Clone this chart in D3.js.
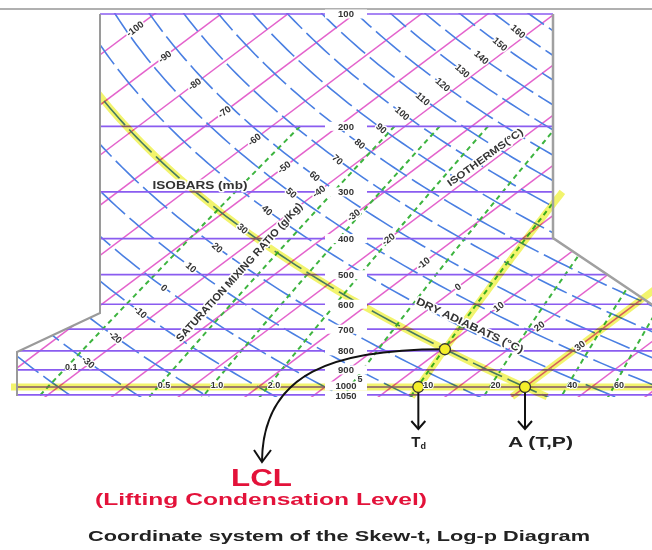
<!DOCTYPE html>
<html>
<head>
<meta charset="utf-8">
<script src="https://cdn.jsdelivr.net/npm/d3@7"></script>
<style>
  body { margin: 0; background: #fff; }
  text { font-family: "Liberation Sans", Arial, sans-serif; font-weight: bold; }
</style>
</head>
<body>
<svg id="chart" width="652" height="550"></svg>
<script>
// isobars (mb) and their labels
var pressures = [100, 200, 300, 400, 500, 600, 700, 800, 900, 1000, 1050];
// isotherms (deg C)
var isotherms = [-110, -100, -90, -80, -70, -60, -50, -40, -30, -20, -10, 0, 10, 20, 30, 40, 50, 60];
var isothermLabels = [-100, -90, -80, -70, -60, -50, -40, -30, -20, -10, 0, 10, 20, 30, 40];
// dry adiabats, potential temperature (deg C)
var adiabats = [-50, -40, -30, -20, -10, 0, 10, 20, 30, 40, 50, 60, 70, 80, 90, 100,
                110, 120, 130, 140, 150, 160, 170, 180];
var adiabatLabels = [-40, -30, -20, -10, 0, 10, 20, 30, 40, 50, 60, 70, 80, 90, 100,
                     110, 120, 130, 140, 150, 160];
// saturation mixing ratio lines (g/kg)
var mixingRatios = [0.1, 0.5, 1, 2, 5, 10, 20, 40, 60];
// the surface parcel
var parcelPressure = 1000;
var parcelTemp = 30;
var parcelDewpoint = 14;

var W = 652, H = 550;
var SKEW = 1.33;

var svg = d3.select("#chart");

var y = d3.scaleLog().domain([100, 1000]).range([14, 387]);
var t = d3.scaleLinear().domain([0, 30]).range([325, 525]);
var Y0 = y(1000);

function px(T, p) {
    return t(T) + SKEW * (Y0 - y(p));
}
function satVap(T) {
    return 6.112 * Math.exp(17.67 * T / (T + 243.5));
}
function mixT(w, p) {
    var e = w * p / (622 + w);
    var l = Math.log(e / 6.112);
    return 243.5 * l / (17.67 - l);
}
function dryT(theta, p) {
    return (theta + 273.15) * Math.pow(p / 1000, 0.286) - 273.15;
}
function levels(p0, p1) {
    var n = 80, out = [];
    for (var i = 0; i <= n; i++) {
        out.push(p0 * Math.pow(p1 / p0, i / n));
    }
    return out;
}

var line = d3.line();

var defs = svg.append("defs");
defs.append("clipPath").attr("id", "frame")
    .append("polygon")
    .attr("points", [[100, 13], [553, 13], [553, 238], [760, 378], [760, 397], [17, 397], [17, 352], [100, 313]].join(" "));
defs.append("clipPath").attr("id", "leftcut")
    .append("rect").attr("x", 100).attr("y", 0).attr("width", W).attr("height", H);

// gray border of the screenshot
svg.append("line").attr("x1", 0).attr("x2", W).attr("y1", 9).attr("y2", 9)
    .attr("stroke", "#b0b0b0").attr("stroke-width", 2);

var grid = svg.append("g").attr("clip-path", "url(#frame)").attr("fill", "none");

grid.selectAll(".iso").data(isotherms).enter().append("path")
    .attr("d", function (T) { return line([[px(T, 95), y(95)], [px(T, 1070), y(1070)]]); })
    .attr("stroke", "#e463cc").attr("stroke-width", 1.5);

grid.selectAll(".dry").data(adiabats).enter().append("path")
    .attr("d", function (th) {
        return line(levels(95, 1070).map(function (p) { return [px(dryT(th, p), p), y(p)]; }));
    })
    .attr("stroke", "#4a7fe2").attr("stroke-width", 1.6)
    .attr("stroke-dasharray", "32,6");

grid.selectAll(".mix").data(mixingRatios).enter().append("path")
    .attr("d", function (w) {
        return line(levels(200, 1070).map(function (p) { return [px(mixT(w, p), p), y(p)]; }));
    })
    .attr("stroke", "#3db43f").attr("stroke-width", 2)
    .attr("stroke-dasharray", "5,4");

grid.selectAll(".bar").data(pressures).enter().append("line")
    .attr("x1", 0).attr("x2", W)
    .attr("y1", function (p) { return y(p); }).attr("y2", function (p) { return y(p); })
    .attr("stroke", "#8a5cf0").attr("stroke-width", 1.7);

// yellow highlighter strokes
var hi = svg.append("g").attr("fill", "none").attr("stroke", "#eef03c")
    .attr("stroke-width", 7).attr("stroke-opacity", 0.75)
    .style("mix-blend-mode", "multiply");
var wLine = 622 * satVap(parcelDewpoint) / (parcelPressure - satVap(parcelDewpoint));

hi.append("line").attr("x1", 11).attr("x2", W)
    .attr("y1", y(parcelPressure)).attr("y2", y(parcelPressure));
hi.append("path").attr("clip-path", "url(#leftcut)")
    .attr("d", line(levels(150, 1062).map(function (p) { return [px(dryT(parcelTemp, p), p), y(p)]; })));
hi.append("path")
    .attr("d", line(levels(300, 1062).map(function (p) { return [px(mixT(wLine, p), p), y(p)]; })));
hi.append("path")
    .attr("d", line([[px(parcelTemp, 1062), y(1062)], [px(parcelTemp, 520), y(520)]]));

// diagram outline
svg.append("polyline").attr("fill", "none").attr("stroke", "#9a9a9a").attr("stroke-width", 2)
    .attr("points", [[100, 14], [100, 313], [17, 352], [17, 396]].join(" "));
svg.append("polyline").attr("fill", "none").attr("stroke", "#a0a0a0").attr("stroke-width", 2.5)
    .attr("points", [[553, 14], [553, 238], [660, 310]].join(" "));

// pressure labels
var pl = svg.selectAll(".plab").data(pressures).enter().append("g")
    .attr("transform", function (p) {
        var nudge = p === 1000 ? -1 : (p === 1050 ? 1 : 0);
        return "translate(346," + (y(p) + nudge) + ")";
    });
pl.append("rect").attr("x", -21).attr("y", -4.5).attr("width", 42).attr("height", 9).attr("fill", "#fff");
pl.append("text").attr("text-anchor", "middle").attr("dy", "0.36em")
    .attr("font-size", 9.5).attr("fill", "#333").text(function (p) { return p; });

// find where a curve x = fx(yy) crosses a guide polyline
function onGuide(guide, fx) {
    var pts = [], n = 600;
    for (var i = 0; i < guide.length - 1; i++) {
        for (var j = 0; j < n; j++) {
            var s = j / n;
            pts.push([guide[i][0] + s * (guide[i + 1][0] - guide[i][0]),
                      guide[i][1] + s * (guide[i + 1][1] - guide[i][1])]);
        }
    }
    pts.push(guide[guide.length - 1]);
    for (var k = 0; k < pts.length - 1; k++) {
        var a = pts[k][0] - fx(pts[k][1]), b = pts[k + 1][0] - fx(pts[k + 1][1]);
        if (a === 0 || a * b < 0) return pts[k];
    }
    return null;
}

var halo = function (sel) {
    sel.attr("stroke", "#fff").attr("stroke-width", 3).attr("paint-order", "stroke")
        .attr("stroke-linejoin", "round");
};

var isoGuide = [[133, 27], [285, 168], [458, 287], [620, 365]];
isothermLabels.forEach(function (T) {
    var pt = onGuide(isoGuide, function (yy) { return px(T, y.invert(yy)); });
    if (!pt) return;
    svg.append("text").attr("transform", "translate(" + pt + ") rotate(-37)")
        .attr("text-anchor", "middle").attr("dy", "0.36em")
        .attr("font-size", 9.5).attr("fill", "#333").call(halo).text(T);
});

var dryGuide = [[520, 30], [400, 115], [270, 208], [165, 287], [93, 360], [53, 377]];
adiabatLabels.forEach(function (th) {
    var pt = onGuide(dryGuide, function (yy) { var p = y.invert(yy); return px(dryT(th, p), p); });
    if (!pt) return;
    var p = y.invert(pt[1]);
    var dx = px(dryT(th, p * 1.02), p * 1.02) - px(dryT(th, p), p);
    var dy = y(p * 1.02) - y(p);
    var ang = Math.atan2(dy, dx) * 180 / Math.PI + 6;
    svg.append("text").attr("transform", "translate(" + pt + ") rotate(" + ang + ")")
        .attr("text-anchor", "middle").attr("dy", "0.36em")
        .attr("font-size", 9.5).attr("fill", "#333").call(halo).text(th);
});

// LCL by bisection
var lo = 500, hi2 = 1000;
for (var i = 0; i < 60; i++) {
    var mid = (lo + hi2) / 2;
    if (dryT(parcelTemp, mid) - mixT(wLine, mid) > 0) hi2 = mid; else lo = mid;
}
var lclP = (lo + hi2) / 2;
var lcl = [px(dryT(parcelTemp, lclP), lclP), y(lclP)];
var ptA = [px(parcelTemp, parcelPressure), y(parcelPressure)];
var ptTd = [px(parcelDewpoint, parcelPressure), y(parcelPressure)];

var ink = svg.append("g").attr("fill", "none").attr("stroke", "#111").attr("stroke-width", 2);
ink.append("path").attr("d", "M" + lcl + " C 335,349 263,372 262,461");
ink.append("polyline").attr("points", [[254, 450], [262, 462], [271, 450]].join(" "));
[ptTd, ptA].forEach(function (c) {
    ink.append("line").attr("x1", c[0]).attr("x2", c[0]).attr("y1", c[1] + 5).attr("y2", 429);
    ink.append("polyline").attr("points", [[c[0] - 7, 421], [c[0], 429], [c[0] + 7, 421]].join(" "));
});

svg.selectAll(".pt").data([ptTd, ptA, lcl]).enter().append("circle")
    .attr("cx", function (d) { return d[0]; }).attr("cy", function (d) { return d[1]; })
    .attr("r", 5.5).attr("fill", "#f4ee2a").attr("stroke", "#333").attr("stroke-width", 1.3);

// mixing-ratio labels sit just above the 1000 mb line, moved up where they would meet other text
mixingRatios.forEach(function (w) {
    var p = w < 0.5 ? 880 : (w === 5 ? 950 : 984);
    svg.append("text")
        .attr("x", px(mixT(w, p), p) + (w === 10 ? 9 : 4)).attr("y", y(p))
        .attr("text-anchor", "middle").attr("dy", "0.36em")
        .attr("font-size", 9).attr("fill", "#333").call(halo).attr("stroke-width", 2)
        .text(w < 5 ? w.toFixed(1) : w);
});

// axis titles
function title(txt, cx, cy, ang, len, size) {
    svg.append("text").attr("transform", "translate(" + cx + "," + cy + ") rotate(" + ang + ")")
        .attr("x", -len / 2).attr("dy", "0.36em")
        .attr("textLength", len).attr("lengthAdjust", "spacingAndGlyphs")
        .attr("font-size", size).attr("fill", "#333").call(halo).text(txt);
}
title("ISOBARS (mb)", 200, 185, 0, 95, 10.5);
title("SATURATION MIXING RATIO (g/Kg)", 239, 272, -48, 183, 10.5);
title("ISOTHERMS(\u00b0C)", 485, 157, -36, 91, 10);
title("DRY ADIABATS (\u00b0C)", 470, 325, 25, 117, 10.5);

// annotations
svg.append("text").attr("x", ptTd[0] - 7).attr("y", 447).attr("font-size", 15).attr("fill", "#222").text("T")
    .append("tspan").attr("font-size", 9).attr("dy", 2).text("d");
svg.append("text").attr("x", 508).attr("y", 447).attr("font-size", 15).attr("fill", "#222")
    .attr("textLength", 65).attr("lengthAdjust", "spacingAndGlyphs").text("A (T,P)");
svg.append("text").attr("x", 231).attr("y", 486).attr("font-size", 23).attr("fill", "#e3123a")
    .attr("textLength", 61).attr("lengthAdjust", "spacingAndGlyphs").text("LCL");
svg.append("text").attr("x", 95).attr("y", 505).attr("font-size", 16).attr("fill", "#e3123a")
    .attr("textLength", 332).attr("lengthAdjust", "spacingAndGlyphs").text("(Lifting Condensation Level)");
svg.append("text").attr("x", 88).attr("y", 541).attr("font-size", 15).attr("fill", "#222")
    .attr("textLength", 502).attr("lengthAdjust", "spacingAndGlyphs")
    .text("Coordinate system of the Skew-t, Log-p Diagram");
</script>
</body>
</html>
